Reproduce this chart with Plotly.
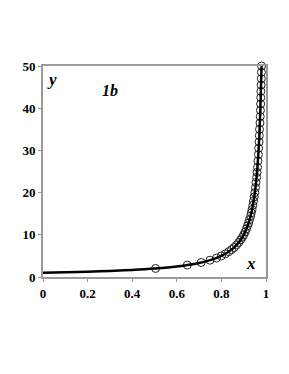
import plotly.graph_objects as go

# curve values
line_x = [0.0, 0.1, 0.2, 0.3, 0.4, 0.5, 0.6, 0.7, 0.75, 0.8, 0.85, 0.88, 0.9, 0.92,
          0.93, 0.94, 0.95, 0.96, 0.965, 0.97, 0.975, 0.98]
line_y = [1.0, 1.111, 1.25, 1.429, 1.667, 2.0, 2.5, 3.333, 4.0, 5.0, 6.667, 8.333, 10.0,
          12.5, 14.29, 16.67, 20.0, 25.0, 28.57, 33.33, 40.0, 50.0]

# circle markers
pts_x = [0.505, 0.647, 0.709, 0.749, 0.778, 0.800, 0.818, 0.833, 0.846, 0.857, 0.868,
         0.878, 0.886, 0.894, 0.900, 0.907, 0.912, 0.917, 0.922, 0.926, 0.931, 0.934,
         0.9375, 0.941, 0.944, 0.947, 0.950, 0.953, 0.955, 0.958, 0.960, 0.962, 0.964,
         0.966, 0.967, 0.969, 0.970, 0.971, 0.973, 0.974, 0.975, 0.976, 0.9765, 0.977,
         0.978, 0.979, 0.9794, 0.980]
pts_y = [2.02, 2.83, 3.44, 3.98, 4.5, 5.0, 5.5, 6.0, 6.5, 7.0, 7.6, 8.2, 8.8, 9.4, 10.0,
         10.7, 11.4, 12.1, 12.8, 13.6, 14.4, 15.2, 16.0, 17.0, 18.0, 19.0, 20.0, 21.2,
         22.4, 23.6, 24.8, 26.0, 27.5, 29.0, 30.5, 32.0, 33.5, 35.0, 36.5, 38.0, 39.5,
         41.0, 42.5, 44.0, 45.5, 47.0, 48.5, 50.0]

x_ticks = [0, 0.2, 0.4, 0.6, 0.8, 1]
x_tick_text = ["0", "0.2", "0.4", "0.6", "0.8", "1"]
y_ticks = [0, 10, 20, 30, 40, 50]
y_tick_text = ["0", "10", "20", "30", "40", "50"]

fig = go.Figure()
fig.add_trace(go.Scatter(x=pts_x, y=pts_y, mode="markers",
                         marker=dict(symbol="circle-open", size=8, color="#222",
                                     line=dict(width=1, color="#222")),
                         showlegend=False, cliponaxis=False))
fig.add_trace(go.Scatter(x=line_x, y=line_y, mode="lines", line_shape="spline",
                         line=dict(color="black", width=2.5), showlegend=False))

font_tick = dict(family="Liberation Serif", size=13, color="black", weight="bold")
axis_common = dict(showgrid=False, zeroline=False, showline=True, linecolor="#9a9a9a",
                   linewidth=2, mirror=True, ticks="outside", ticklen=3,
                   tickcolor="#9a9a9a", tickwidth=1, tickfont=font_tick)

fig.update_layout(
    width=289, height=374,
    margin=dict(l=35, r=31, t=58, b=105),
    paper_bgcolor="white", plot_bgcolor="white",
    xaxis=dict(range=[0, 1], tickvals=x_ticks, ticktext=x_tick_text, **axis_common),
    yaxis=dict(range=[0, 50], tickvals=y_ticks, ticktext=y_tick_text, **axis_common),
    annotations=[
        dict(x=0.01, y=0.99, xref="paper", yref="paper", text="<b><i>y</i></b>",
             showarrow=False, xanchor="left", yanchor="top",
             font=dict(family="Liberation Serif", size=17, color="black")),
        dict(x=0.255, y=0.935, xref="paper", yref="paper", text="<b><i>1b</i></b>",
             showarrow=False, xanchor="left", yanchor="top",
             font=dict(family="Liberation Serif", size=16, color="black")),
        dict(x=0.965, y=0.01, xref="paper", yref="paper", text="<b><i>x</i></b>",
             showarrow=False, xanchor="right", yanchor="bottom",
             font=dict(family="Liberation Serif", size=17, color="black")),
    ],
)

fig.write_html("out.html")
